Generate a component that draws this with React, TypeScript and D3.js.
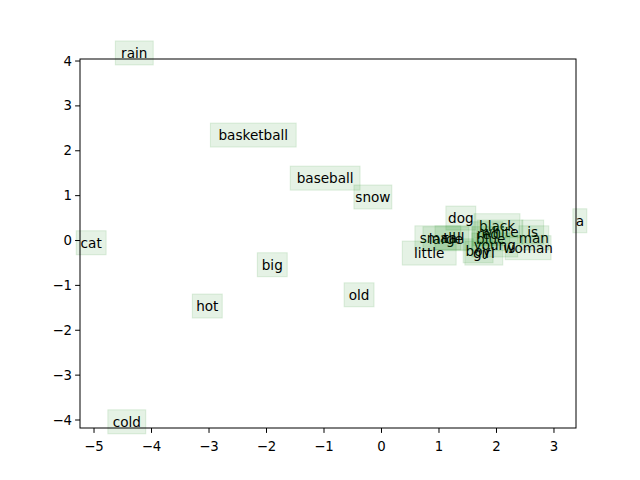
import React from "react";
import * as d3 from "d3";

const words = ["rain","basketball","baseball","snow","dog","black","white","is","man","woman","small","large","tall","red","blue","young","boy","girl","little","a","cat","big","old","hot","cold"];
const xs = [-4.30,-2.23,-0.98,-0.15,1.38,2.01,2.06,2.63,2.65,2.55,0.98,1.12,1.26,1.85,1.90,1.97,1.68,1.78,0.83,3.45,-5.05,-1.90,-0.39,-3.03,-4.43];
const ys = [4.18,2.35,1.39,0.97,0.50,0.33,0.19,0.19,0.06,-0.16,0.06,0.04,0.06,0.15,0.04,-0.10,-0.23,-0.28,-0.28,0.44,-0.05,-0.54,-1.21,-1.46,-4.04];
const xTicks = [-5,-4,-3,-2,-1,0,1,2,3];
const yTicks = [-4,-3,-2,-1,0,1,2,3,4];

export default function App() {
  const L = 80, R = 576, T = 59, B = 428;
  const x = d3.scaleLinear().domain([-5.244, 3.383]).range([L, R]);
  const y = d3.scaleLinear().domain([-4.178, 4.045]).range([B, T]);
  const fs = 13.3;
  return (
    <svg width={640} height={480} style={{ position: "absolute", left: 0, top: 0 }} fontFamily="DejaVu Sans">
      <rect width={640} height={480} fill="white" />
      {words.map((w, i) => {
        const wd = w.length * fs * 0.6 + 6;
        return (
          <g key={w}>
            <rect x={x(xs[i]) - wd / 2} y={y(ys[i]) - 12} width={wd} height={24} fill="green" fillOpacity={0.1} stroke="green" strokeOpacity={0.12} />
            <text x={x(xs[i])} y={y(ys[i])} textAnchor="middle" dominantBaseline="central" fontSize={13.6} fill="black">{w}</text>
          </g>
        );
      })}
      <rect x={L} y={T} width={R - L} height={B - T} fill="none" stroke="black" strokeWidth={1} />
      {xTicks.map(t => (
        <g key={t}>
          <line x1={x(t)} x2={x(t)} y1={B} y2={B + 4.9} stroke="black" />
          <text x={x(t)} y={B + 18} textAnchor="middle" fontSize={fs} dominantBaseline="central">{t < 0 ? "−" + -t : t}</text>
        </g>
      ))}
      {yTicks.map(t => (
        <g key={t}>
          <line x1={L} x2={L - 4.9} y1={y(t)} y2={y(t)} stroke="black" />
          <text x={L - 8} y={y(t)} textAnchor="end" fontSize={fs} dominantBaseline="central">{t < 0 ? "−" + -t : t}</text>
        </g>
      ))}
    </svg>
  );
}
